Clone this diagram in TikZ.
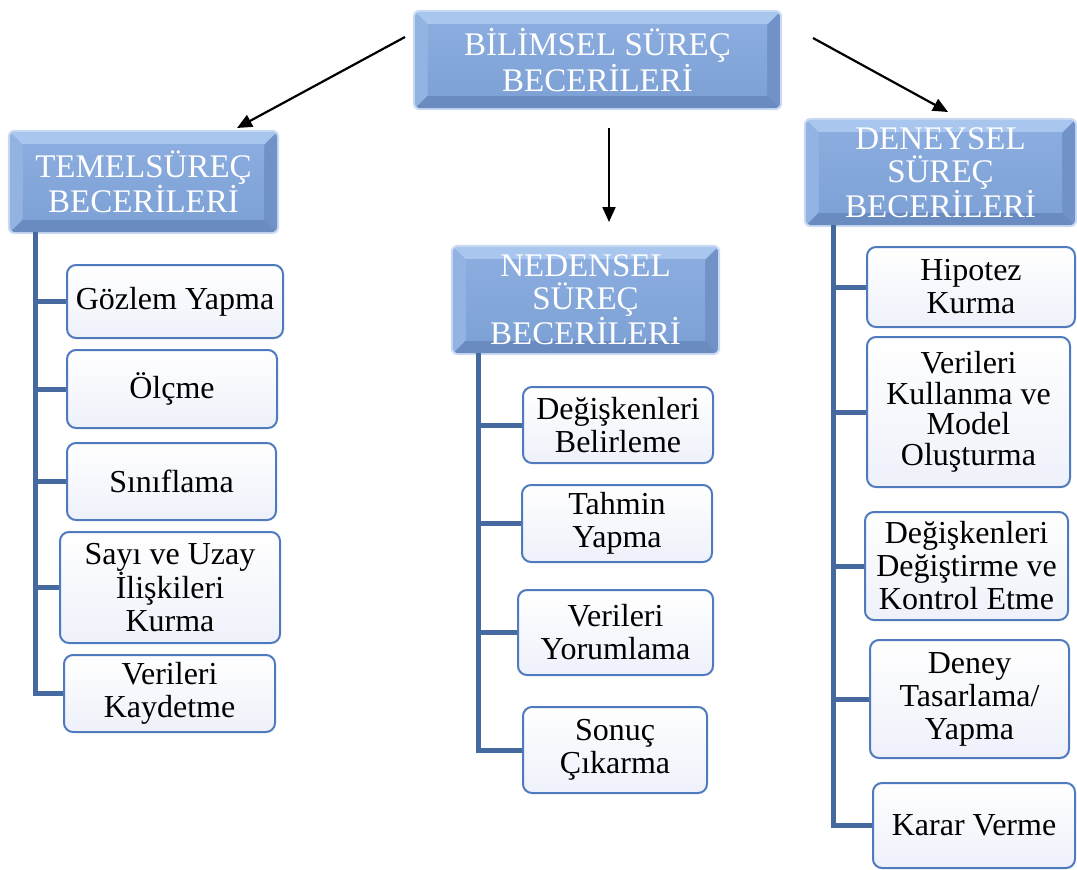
\documentclass[tikz,border=0pt]{standalone}
\usepackage{fontspec}
\setmainfont{Liberation Serif}
\usetikzlibrary{backgrounds,arrows.meta,calc}
\definecolor{hdrmid}{HTML}{7FA2D6}
\definecolor{hdrface}{HTML}{8AACDF}
\definecolor{hdrtop}{HTML}{A9C6EE}
\definecolor{hdrbot}{HTML}{6A8BC0}
\definecolor{hdrleft}{HTML}{93B3E2}
\definecolor{hdrright}{HTML}{7192C7}
\definecolor{hdrglow}{HTML}{C9DAF2}
\definecolor{boxline}{HTML}{4F7BBE}
\definecolor{boxbot}{HTML}{EEF1FA}
\definecolor{treeline}{HTML}{46699F}
\tikzset{
  hdr/.style={text=white, align=center, font=\fontsize{33}{33}\selectfont, inner sep=0pt},
  leaf/.style={draw=boxline, line width=2pt, rounded corners=9pt, top color=white, bottom color=boxbot,
    align=center, font=\fontsize{32}{33}\selectfont, inner sep=0pt},
  tree/.style={draw=treeline, line width=5pt},
  arr/.style={-{Triangle[length=15pt,width=13pt]}, line width=2.2pt},
}
\newcommand\bevelbox[1]{%
  \begin{scope}[on background layer]
    \fill[hdrglow, rounded corners=7pt] ($(#1.south west)+(-2,2)$) rectangle ($(#1.north east)+(2,-2)$);
    \begin{scope}
      \clip[rounded corners=6pt] (#1.south west) rectangle (#1.north east);
      \fill[hdrmid] (#1.south west) rectangle (#1.north east);
      \fill[hdrtop] (#1.north west) -- (#1.north east) -- ($(#1.north east)+(-13,13)$) -- ($(#1.north west)+(13,13)$) -- cycle;
      \fill[hdrbot] (#1.south west) -- (#1.south east) -- ($(#1.south east)+(-13,-13)$) -- ($(#1.south west)+(13,-13)$) -- cycle;
      \fill[hdrleft] (#1.south west) -- (#1.north west) -- ($(#1.north west)+(13,13)$) -- ($(#1.south west)+(13,-13)$) -- cycle;
      \fill[hdrright] (#1.south east) -- (#1.north east) -- ($(#1.north east)+(-13,13)$) -- ($(#1.south east)+(-13,-13)$) -- cycle;
      \shade[top color=hdrface, bottom color=hdrmid] ($(#1.north west)+(13,13)$) rectangle ($(#1.south east)+(-13,-13)$);
    \end{scope}
  \end{scope}}
\begin{document}
\begin{tikzpicture}[x=1pt,y=-1pt]
\useasboundingbox (0,0) rectangle (1077,870);
% headers
\node[hdr, minimum width=365, minimum height=96] (top) at (597.5,60) {BİLİMSEL SÜREÇ\\BECERİLERİ};
\node[hdr, minimum width=267, minimum height=100] (temel) at (143.5,182) {TEMELSÜREÇ\\BECERİLERİ};
\node[hdr, minimum width=265, minimum height=106] (ned) at (585.5,300) {NEDENSEL\\SÜREÇ\\BECERİLERİ};
\node[hdr, minimum width=269, minimum height=105] (den) at (940.5,172.5) {DENEYSEL\\SÜREÇ\\BECERİLERİ};
\bevelbox{top}\bevelbox{temel}\bevelbox{ned}\bevelbox{den}
% arrows
\coordinate (a1s) at (405,37); \coordinate (a1e) at (237,128);
\coordinate (a2s) at (609,128); \coordinate (a2e) at (609,222);
\coordinate (a3s) at (813,38); \coordinate (a3e) at (948,112);
\draw[arr] (a1s) -- (a1e);
\draw[arr] (a2s) -- (a2e);
\draw[arr] (a3s) -- (a3e);
% left leaves
\node[leaf, minimum width=216, minimum height=73] (g1) at (175,301.5) {Gözlem Yapma};
\node[leaf, minimum width=210, minimum height=78] (g2) at (172,389) {Ölçme};
\node[leaf, minimum width=209, minimum height=77] (g3) at (171.5,481.5) {Sınıflama};
\node[leaf, minimum width=220, minimum height=111] (g4) at (170,587.5) {Sayı ve Uzay\\İlişkileri\\Kurma};
\node[leaf, minimum width=211, minimum height=77] (g5) at (169.5,693.5) {Verileri\\Kaydetme};
% middle leaves
\node[leaf, minimum width=190, minimum height=76] (n1) at (618,425) {Değişkenleri\\Belirleme};
\node[leaf, minimum width=190, minimum height=77] (n2) at (617,523.5) {Tahmin\\Yapma};
\node[leaf, minimum width=195, minimum height=85] (n3) at (615.5,632.5) {Verileri\\Yorumlama};
\node[leaf, minimum width=184, minimum height=86] (n4) at (615,750) {Sonuç\\Çıkarma};
% right leaves
\node[leaf, minimum width=208, minimum height=80] (d1) at (971,287) {Hipotez\\Kurma};
\node[leaf, minimum width=203, minimum height=150, font=\fontsize{32}{30.5}\selectfont] (d2) at (968.5,412) {Verileri\\Kullanma ve\\Model\\Oluşturma};
\node[leaf, minimum width=203, minimum height=108] (d3) at (966.5,566) {Değişkenleri\\Değiştirme ve\\Kontrol Etme};
\node[leaf, minimum width=199, minimum height=118] (d4) at (969.5,699) {Deney\\Tasarlama/\\Yapma};
\node[leaf, minimum width=202, minimum height=85] (d5) at (974,825.5) {Karar Verme};
% tree lines
\coordinate (tl) at (35,232);
\coordinate (tm) at (478,353);
\coordinate (tr) at (833,225);
\draw[tree] (tl) |- (g5.west);
\foreach \b in {g1,g2,g3,g4} \draw[tree] (tl |- \b.west) -- (\b.west);
\draw[tree] (tm) |- (n4.west);
\foreach \b in {n1,n2,n3} \draw[tree] (tm |- \b.west) -- (\b.west);
\draw[tree] (tr) |- (d5.west);
\foreach \b in {d1,d2,d3,d4} \draw[tree] (tr |- \b.west) -- (\b.west);
\end{tikzpicture}
\end{document}
